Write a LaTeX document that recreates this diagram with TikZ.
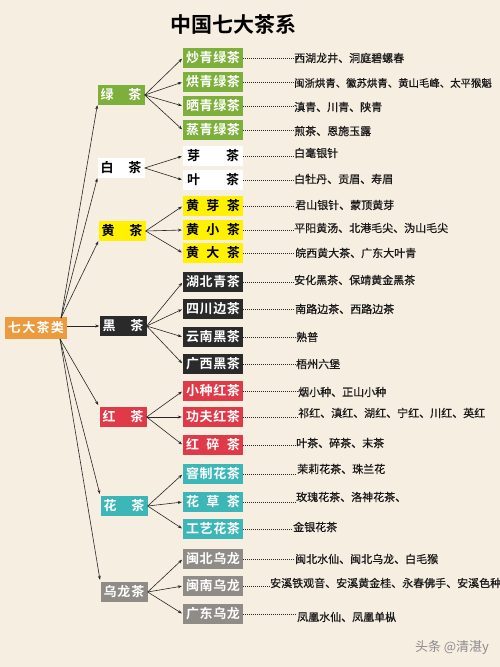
\documentclass[tikz,border=0pt]{standalone}
\usepackage{fontspec}
\newfontfamily\cjk{Noto Sans CJK SC}[BoldFont={* Bold}]
\newfontfamily\cjkd{Noto Sans CJK SC}[FakeBold=0.6]
\usetikzlibrary{arrows.meta}
\definecolor{bg}{HTML}{F7EEE2}
\definecolor{cgreen}{HTML}{7DB03A}
\definecolor{cyellow}{HTML}{FFF100}
\definecolor{cblack}{HTML}{2A2A2A}
\definecolor{cred}{HTML}{E03A48}
\definecolor{cteal}{HTML}{3DB6B8}
\definecolor{cgray}{HTML}{8F8B87}
\definecolor{corange}{HTML}{EB9A3E}
\newcommand{\spr}[2]{\makebox[#1]{#2}}
\begin{document}
\begin{tikzpicture}[x=1pt,y=-1pt, font=\cjk,
  box/.style={minimum height=20pt, inner sep=0pt, font=\cjk\bfseries\fontsize{13}{13}\selectfont},
  catbox/.style={box, minimum width=47pt},
  subbox/.style={box, minimum width=60pt},
  desc/.style={anchor=west, inner sep=0pt, text=black!90, font=\cjkd\fontsize{11}{11}\selectfont},
  arr/.style={-{Stealth[length=4pt,width=3pt]}, line width=0.6pt, draw=black!85},
  dots/.style={dash pattern=on 1.2pt off 0.8pt, line width=0.55pt, draw=black!85},
]
\fill[bg] (0,0) rectangle (500,667);
\useasboundingbox (0,0) rectangle (500,667);

\node[font=\cjk\bfseries\fontsize{21}{21}\selectfont] (title) at (233,25) {中国七大茶系};

% root
\node[box, minimum width=62pt, minimum height=22pt, fill=corange, text=white] (root) at (36,328) {\spr{56pt}{七\hfill 大\hfill 茶\hfill 类}};
\coordinate (rt) at (61,318);
\coordinate (rb) at (60,339);

% categories
\node[catbox, fill=cgreen, text=white] (lv) at (121,95) {\spr{41pt}{绿\hfill 茶}};
\node[catbox, fill=white] (bai) at (121,168) {\spr{41pt}{白\hfill 茶}};
\node[catbox, fill=cyellow] (huang) at (122,231) {\spr{41pt}{黄\hfill 茶}};
\node[catbox, fill=cblack, text=white] (hei) at (123,326) {\spr{41pt}{黑\hfill 茶}};
\node[catbox, fill=cred, text=white] (hong) at (123,417) {\spr{41pt}{红\hfill 茶}};
\node[catbox, fill=cteal, text=white] (hua) at (124,506) {\spr{41pt}{花\hfill 茶}};
\node[catbox, fill=cgray, text=white] (wl) at (124,592) {\spr{41pt}{乌\hfill 龙\hfill 茶}};

% root arrows
\draw[arr] (rt) -- (lv.south west);
\draw[arr] (rt) -- (bai.south west);
\draw[arr] (rt) -- (huang.south west);
\draw[arr] (root.east |- hei.west) -- (hei.west);
\draw[arr, shorten >=2pt] (rb) -- (hong.north west);
\draw[arr, shorten >=2pt] (rb) -- (hua.north west);
\draw[arr, shorten >=2pt] (rb) -- (wl.north west);

% sub boxes
\node[subbox, fill=cgreen, text=white] (s1) at (213,58) {\spr{54pt}{炒\hfill 青\hfill 绿\hfill 茶}};
\node[subbox, fill=cgreen, text=white] (s2) at (213,82) {\spr{54pt}{烘\hfill 青\hfill 绿\hfill 茶}};
\node[subbox, fill=cgreen, text=white] (s3) at (213,106) {\spr{54pt}{晒\hfill 青\hfill 绿\hfill 茶}};
\node[subbox, fill=cgreen, text=white] (s4) at (213,130) {\spr{54pt}{蒸\hfill 青\hfill 绿\hfill 茶}};
\node[subbox, fill=white] (s5) at (213,156) {\spr{52pt}{芽\hfill 茶}};
\node[subbox, fill=white] (s6) at (213,180) {\spr{52pt}{叶\hfill 茶}};
\node[subbox, fill=cyellow] (s7) at (213,206) {\spr{54pt}{黄\hfill 芽\hfill 茶}};
\node[subbox, fill=cyellow] (s8) at (213,230) {\spr{54pt}{黄\hfill 小\hfill 茶}};
\node[subbox, fill=cyellow] (s9) at (213,253) {\spr{54pt}{黄\hfill 大\hfill 茶}};
\node[subbox, fill=cblack, text=white] (s10) at (213,282) {\spr{54pt}{湖\hfill 北\hfill 青\hfill 茶}};
\node[subbox, fill=cblack, text=white] (s11) at (213,309) {\spr{54pt}{四\hfill 川\hfill 边\hfill 茶}};
\node[subbox, fill=cblack, text=white] (s12) at (213,337) {\spr{54pt}{云\hfill 南\hfill 黑\hfill 茶}};
\node[subbox, fill=cblack, text=white] (s13) at (213,364) {\spr{54pt}{广\hfill 西\hfill 黑\hfill 茶}};
\node[subbox, fill=cred, text=white] (s14) at (213,391) {\spr{54pt}{小\hfill 种\hfill 红\hfill 茶}};
\node[subbox, fill=cred, text=white] (s15) at (213,417) {\spr{54pt}{功\hfill 夫\hfill 红\hfill 茶}};
\node[subbox, fill=cred, text=white] (s16) at (213,445) {\spr{54pt}{红\hfill 碎\hfill 茶}};
\node[subbox, fill=cteal, text=white] (s17) at (213,474) {\spr{54pt}{窨\hfill 制\hfill 花\hfill 茶}};
\node[subbox, fill=cteal, text=white] (s18) at (213,502) {\spr{54pt}{花\hfill 草\hfill 茶}};
\node[subbox, fill=cteal, text=white] (s19) at (213,529) {\spr{54pt}{工\hfill 艺\hfill 花\hfill 茶}};
\node[subbox, fill=cgray, text=white] (s20) at (213,559) {\spr{54pt}{闽\hfill 北\hfill 乌\hfill 龙}};
\node[subbox, fill=cgray, text=white] (s21) at (213,586) {\spr{54pt}{闽\hfill 南\hfill 乌\hfill 龙}};
\node[subbox, fill=cgray, text=white] (s22) at (213,614) {\spr{54pt}{广\hfill 东\hfill 乌\hfill 龙}};

% category -> sub arrows
\foreach \c/\s in {lv/s1,lv/s2,lv/s3,lv/s4,bai/s5,bai/s6,huang/s7,huang/s8,huang/s9,hei/s10,hei/s11,hei/s12,hei/s13,hong/s14,hong/s15,hong/s16,hua/s17,hua/s18,hua/s19,wl/s20,wl/s21,wl/s22}
  \draw[arr, shorten >=1pt] (\c.east) -- (\s.west);

% descriptions
\node[desc] (d1) at (294,58) {西湖龙井、洞庭碧螺春};
\node[desc, font=\cjkd\fontsize{10.4}{11}\selectfont] (d2) at (294,83) {闽浙烘青、徽苏烘青、黄山毛峰、太平猴魁};
\node[desc] (d3) at (294,107) {滇青、川青、陕青};
\node[desc] (d4) at (294,131) {煎茶、恩施玉露};
\node[desc] (d5) at (294,153) {白毫银针};
\node[desc] (d6) at (294,179) {白牡丹、贡眉、寿眉};
\node[desc] (d7) at (295,205) {君山银针、蒙顶黄芽};
\node[desc] (d8) at (294,228) {平阳黄汤、北港毛尖、沩山毛尖};
\node[desc] (d9) at (295,253) {皖西黄大茶、广东大叶青};
\node[desc] (d10) at (294,280) {安化黑茶、保靖黄金黑茶};
\node[desc] (d11) at (295,309) {南路边茶、西路边茶};
\node[desc] (d12) at (296,337) {熟普};
\node[desc] (d13) at (296,364) {梧州六堡};
\node[desc] (d14) at (298,392) {烟小种、正山小种};
\node[desc] (d15) at (298,413) {祁红、滇红、湖红、宁红、川红、英红};
\node[desc] (d16) at (296,443) {叶茶、碎茶、末茶};
\node[desc] (d17) at (297,469) {茉莉花茶、珠兰花};
\node[desc] (d18) at (296,497) {玫瑰花茶、洛神花茶、};
\node[desc] (d19) at (293,527) {金银花茶};
\node[desc] (d20) at (295,559) {闽北水仙、闽北乌龙、白毛猴};
\node[desc] (d21) at (270,583) {安溪铁观音、安溪黄金桂、永春佛手、安溪色种};
\node[desc] (d22) at (297,617) {凤凰水仙、凤凰单枞};

\foreach \i in {1,...,22}
  \draw[dots] (s\i.east) -- (s\i.east -| d\i.west);

% watermark
\node[font=\cjk\fontsize{13}{13}\selectfont, text=black!45] (wm) at (452,648) {头条 @清湛y};
\end{tikzpicture}
\end{document}
